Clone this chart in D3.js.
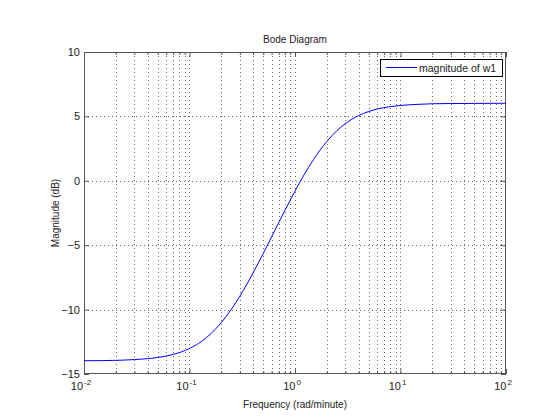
<!DOCTYPE html>
<html><head><meta charset="utf-8">
<script src="https://cdn.jsdelivr.net/npm/d3@7/dist/d3.min.js"></script>
<style>
html,body{margin:0;padding:0;background:#fff;}
svg text{font-family:"Liberation Sans",Arial,Helvetica,sans-serif;fill:#222;}
</style></head>
<body><svg id="c" width="560" height="420"></svg>
<script>
// Data
const freq = [0.01,0.02,0.03,0.05,0.07,0.1,0.13,0.16,0.2,0.25,0.3,0.4,0.5,0.6,0.7,0.8,1.0,1.2,1.5,2,2.5,3,4,5,6,8,10,15,20,30,50,100];
const magDb = [-13.97,-13.94,-13.88,-13.72,-13.48,-13.02,-12.47,-11.86,-11.01,-9.96,-8.96,-7.16,-5.64,-4.35,-3.26,-2.32,-0.80,0.37,1.66,3.05,3.90,4.44,5.06,5.38,5.57,5.76,5.85,5.94,5.98,6.00,6.01,6.02];
const yTicks = [-15,-10,-5,0,5,10];
const xDecades = [-2,-1,0,1,2];
const title = "Bode Diagram";
const xLabel = "Frequency (rad/minute)";
const yLabel = "Magnitude (dB)";
const legendLabel = "magnitude of w1";

const L=84,R=506,T=52,B=374;
const svg=d3.select("#c");
const x=d3.scaleLog().domain([0.01,100]).range([L,R]);
const y=d3.scaleLinear().domain([-15,10]).range([B,T]);
const axisCol="#555", gridCol="#666";

// minor positions
const minors=[];
for(let d=-2; d<2; d++) for(let k=2;k<=9;k++) minors.push(k*Math.pow(10,d));
const majors=xDecades.map(e=>Math.pow(10,e));

const g=svg.append("g");
// vertical grid
g.selectAll(".vg").data(minors.concat(majors.slice(1,-1))).enter().append("line")
 .attr("x1",d=>Math.round(x(d))+0.5).attr("x2",d=>Math.round(x(d))+0.5)
 .attr("y1",T).attr("y2",B).attr("stroke",gridCol).attr("stroke-width",1).attr("stroke-dasharray","1,3");
// horizontal grid
g.selectAll(".hg").data(yTicks.slice(1,-1)).enter().append("line")
 .attr("x1",L).attr("x2",R)
 .attr("y1",d=>Math.round(y(d))+0.5).attr("y2",d=>Math.round(y(d))+0.5)
 .attr("stroke",gridCol).attr("stroke-width",1).attr("stroke-dasharray","1,3");

// axes with d3 axis generators (inner ticks)
const xb=d3.axisBottom(x).tickValues(majors).tickSize(-5).tickFormat("");
const xt=d3.axisTop(x).tickValues(majors).tickSize(-5).tickFormat("");
const xbm=d3.axisBottom(x).tickValues(minors).tickSize(-3).tickFormat("");
const xtm=d3.axisTop(x).tickValues(minors).tickSize(-3).tickFormat("");
const yl=d3.axisLeft(y).tickValues(yTicks).tickSize(-5).tickFormat("");
const yr=d3.axisRight(y).tickValues(yTicks).tickSize(-5).tickFormat("");
function st(sel){sel.selectAll("path").attr("stroke","none");sel.selectAll("line").attr("stroke",axisCol);}
st(svg.append("g").attr("transform",`translate(0,${B})`).call(xb));
st(svg.append("g").attr("transform",`translate(0,${B})`).call(xbm));
st(svg.append("g").attr("transform",`translate(0,${T})`).call(xt));
st(svg.append("g").attr("transform",`translate(0,${T})`).call(xtm));
st(svg.append("g").attr("transform",`translate(${L},0)`).call(yl));
st(svg.append("g").attr("transform",`translate(${R},0)`).call(yr));
svg.append("rect").attr("x",L+0.5).attr("y",T+0.5).attr("width",R-L-1).attr("height",B-T-1)
 .attr("fill","none").attr("stroke",axisCol).attr("stroke-width",1);

// y tick labels
svg.selectAll(".yl").data(yTicks).enter().append("text")
 .attr("x",L-4).attr("y",d=>y(d)+4).attr("text-anchor","end").attr("font-size",11).text(d=>d<0?"\u2212"+Math.abs(d):d);
// x tick labels
const xl=svg.selectAll(".xl").data(xDecades).enter().append("text")
 .attr("x",d=>x(Math.pow(10,d))-3).attr("y",B+16).attr("text-anchor","middle").attr("font-size",11);
xl.append("tspan").text("10");
xl.append("tspan").attr("dy",-5).attr("dx",1).attr("font-size",8).text(d=>d<0?"-"+Math.abs(d):d);

// curve
const data=freq.map((f,i)=>[f,magDb[i]]);
svg.append("path").datum(data)
 .attr("d",d3.line().x(d=>x(d[0])).y(d=>y(d[1])).curve(d3.curveMonotoneX))
 .attr("fill","none").attr("stroke","#0000ff").attr("stroke-width",1);

// legend
svg.append("rect").attr("x",380.5).attr("y",59.5).attr("width",122).attr("height",17)
 .attr("fill","#fff").attr("stroke","#000").attr("stroke-width",1);
svg.append("line").attr("x1",386).attr("x2",417).attr("y1",67.5).attr("y2",67.5).attr("stroke","#0000ff");
svg.append("text").attr("x",419).attr("y",71.5).attr("font-size",10.5).text(legendLabel);

// titles
svg.append("text").attr("x",(L+R)/2).attr("y",43).attr("text-anchor","middle").attr("font-size",10).text(title);
svg.append("text").attr("x",(L+R)/2).attr("y",408).attr("text-anchor","middle").attr("font-size",10).text(xLabel);
svg.append("text").attr("transform",`translate(59,${(T+B)/2}) rotate(-90)`).attr("text-anchor","middle").attr("font-size",10).text(yLabel);
</script></body></html>
